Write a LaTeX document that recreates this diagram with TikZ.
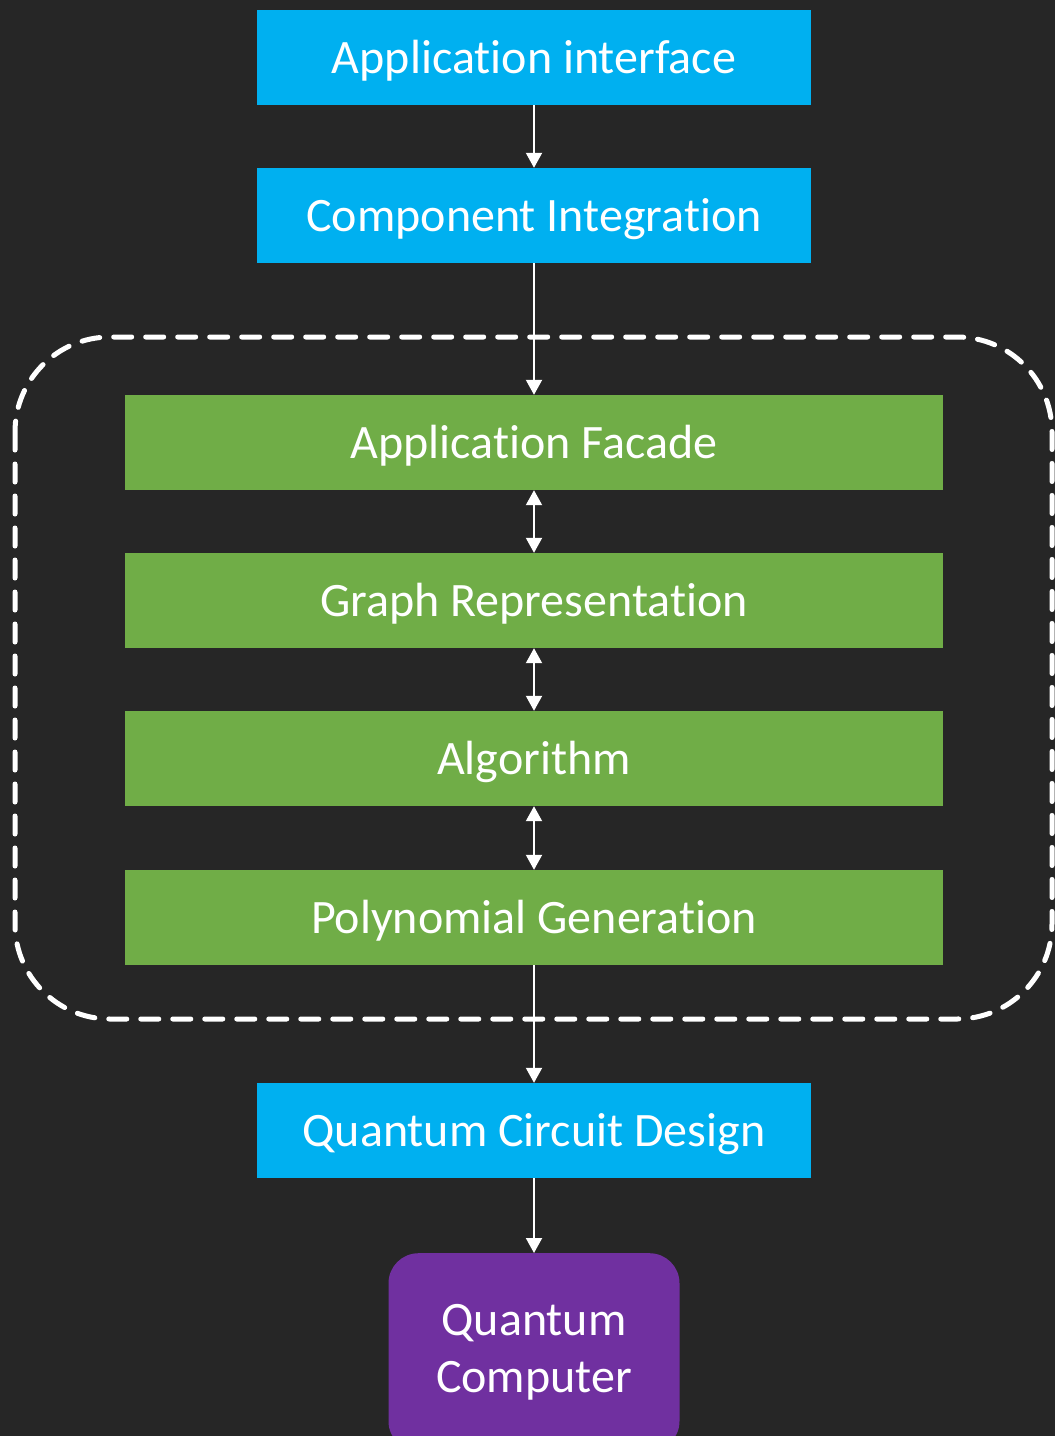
\documentclass[tikz,border=0pt]{standalone}
\usepackage{fontspec}
\setmainfont{Carlito}[Ligatures={NoCommon}]
\usetikzlibrary{arrows.meta}
\definecolor{bgdark}{HTML}{262626}
\definecolor{layerblue}{HTML}{00B0F0}
\definecolor{layergreen}{HTML}{70AD47}
\definecolor{layerpurple}{HTML}{7030A0}
\tikzset{
  layer/.style={draw=none, text=white, inner sep=0pt,
    font=\fontsize{48}{57}\selectfont, text height=31pt, text depth=0pt,
    minimum height=95pt},
  outerlayer/.style={layer, fill=layerblue, minimum width=554pt},
  corelayer/.style={layer, fill=layergreen, minimum width=818pt},
  hwbox/.style={fill=layerpurple, text=white, rounded corners=30pt,
    font=\fontsize{48}{57}\selectfont, align=center,
    minimum width=291pt, minimum height=198pt, inner sep=0pt},
  flow/.style={draw=white, line width=2pt,
    -{Triangle[width=16pt,length=15pt]}},
  twoway/.style={draw=white, line width=2pt,
    {Triangle[width=16pt,length=15pt]}-{Triangle[width=16pt,length=15pt]}},
  groupframe/.style={draw=white, line width=5pt, line cap=round,
    dash pattern=on 18pt off 14pt, rounded corners=95pt}
}
\begin{document}
\begin{tikzpicture}[x=1pt,y=-1pt]
  \fill[bgdark] (0,0) rectangle (1055,1436);
  \useasboundingbox (0,0) rectangle (1055,1436);

  % dashed grouping of the core layers
  \draw[groupframe] (15,337) rectangle (1052,1019);

  \node[outerlayer] (api) at (534,57.5) {Application interface};
  \node[outerlayer] (comp) at (534,215.5) {Component Integration};
  \node[corelayer] (facade) at (534,442.5) {Application Facade};
  \node[corelayer] (graph) at (534,600.5) {Graph Representation};
  \node[corelayer] (algo) at (534,758.5) {Algorithm};
  \node[corelayer] (poly) at (534,917.5) {Polynomial Generation};
  \node[outerlayer] (qcd) at (534,1130.5) {Quantum Circuit Design};
  \node[hwbox, anchor=north] (qc) at (534,1253) {Quantum\\Computer};

  \draw[flow] (api.south) -- (comp.north);
  \draw[flow] (comp.south) -- (facade.north);
  \draw[twoway] (facade.south) -- (graph.north);
  \draw[twoway] (graph.south) -- (algo.north);
  \draw[twoway] (algo.south) -- (poly.north);
  \draw[flow] (poly.south) -- (qcd.north);
  \draw[flow] (qcd.south) -- (qc.north);
\end{tikzpicture}
\end{document}
